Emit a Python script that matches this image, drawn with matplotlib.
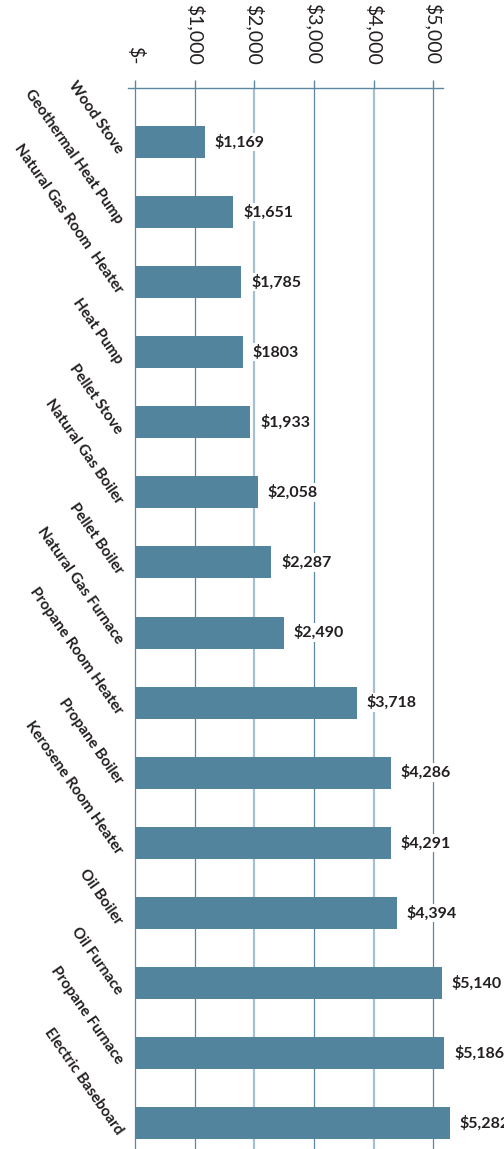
import matplotlib
matplotlib.use("Agg")
import matplotlib.pyplot as plt
from matplotlib.transforms import ScaledTranslation

categories = ["Wood Stove", "Geothermal Heat Pump", "Natural Gas Room  Heater", "Heat Pump",
              "Pellet Stove", "Natural Gas Boiler", "Pellet Boiler", "Natural Gas Furnace",
              "Propane Room Heater", "Propane Boiler", "Kerosene Room Heater", "Oil Boiler",
              "Oil Furnace", "Propane Furnace", "Electric Baseboard"]
costs = [1169, 1651, 1785, 1803, 1933, 2058, 2287, 2490, 3718, 4286, 4291, 4394, 5140, 5186, 5282]
value_labels = ["$1,169", "$1,651", "$1,785", "$1803", "$1,933", "$2,058", "$2,287", "$2,490",
                "$3,718", "$4,286", "$4,291", "$4,394", "$5,140", "$5,186", "$5,282"]
tick_values = [0, 1000, 2000, 3000, 4000, 5000]
tick_labels = ["$-", "$1,000", "$2,000", "$3,000", "$4,000", "$5,000"]

BAR = "#53849d"
GRID_DARK = "#5b87a1"
GRID_LIGHT = "#a6c0cf"
TXT = "#231f20"

W, H = 504, 1149
fig = plt.figure(figsize=(W / 100, H / 100), dpi=100)
ax = fig.add_axes([128 / W, 0, 315 / W, 1 - 88 / H])

y = list(range(len(categories)))
ax.barh(y, costs, height=0.457, color=BAR, zorder=2, clip_on=False)

ax.set_xlim(-117, 5163)
ax.set_ylim(14.371, -0.771)

ax.xaxis.tick_top()
ax.set_xticks(tick_values)
ax.set_xticklabels(tick_labels, rotation=-90, fontsize=14, family="Lato",
                   fontweight="normal", color=TXT)
ax.tick_params(axis="x", which="major", length=6, width=1, color=GRID_DARK, pad=11)

ax.set_yticks(y)
ax.set_yticklabels(categories, rotation=-55, rotation_mode="anchor", ha="right", va="top",
                   fontsize=11, family="Lato", fontweight="bold", color=TXT)
ax.tick_params(axis="y", length=0, pad=2)
shift = ScaledTranslation(0, -6 / 100, fig.dpi_scale_trans)
for lab in ax.get_yticklabels():
    lab.set_transform(lab.get_transform() + shift)

for s in ["left", "right", "bottom"]:
    ax.spines[s].set_visible(False)
ax.spines["top"].set_color(GRID_DARK)
ax.spines["top"].set_linewidth(1)

ax.grid(axis="x", zorder=0)
ax.set_axisbelow(True)
for i, gl in enumerate(ax.get_xgridlines()):
    if i in (2, 4):
        gl.set_color(GRID_LIGHT)
        gl.set_linewidth(1.6)
    else:
        gl.set_color(GRID_DARK)
        gl.set_linewidth(0.9)

for yi, v, lab in zip(y, costs, value_labels):
    ax.annotate(lab, (v, yi), xytext=(7, 0), textcoords="offset points",
                ha="left", va="center", fontsize=11.5, family="Lato", fontweight="bold",
                color=TXT, annotation_clip=False, zorder=3,
                bbox=dict(boxstyle="square,pad=0.1", fc="white", ec="none"))

fig.savefig("out.png", dpi=100)
